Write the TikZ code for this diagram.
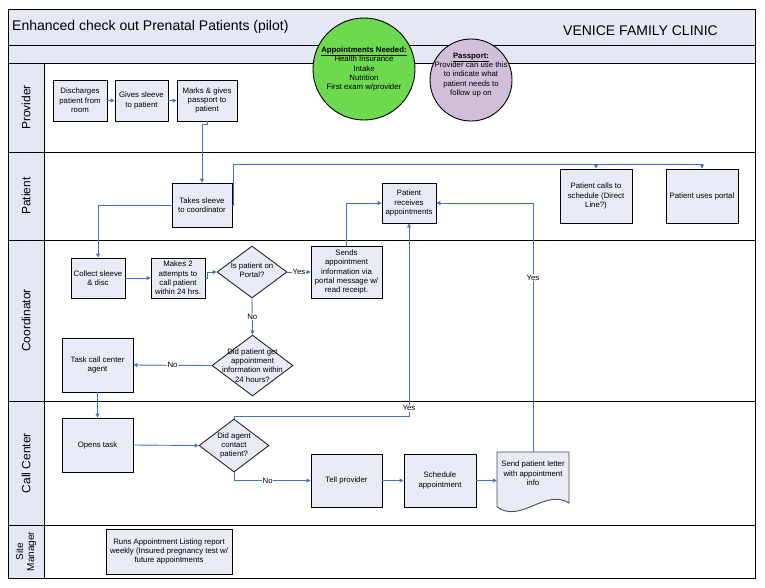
\documentclass[tikz,border=0pt]{standalone}
\usepackage{fontspec}
\setmainfont{Liberation Sans}
\usetikzlibrary{shapes.geometric,arrows.meta,calc}
\definecolor{hdr}{HTML}{E4E8F4}
\definecolor{boxf}{HTML}{E8EAF6}
\definecolor{conn}{HTML}{4472C4}
\definecolor{grn}{HTML}{6CD94E}
\definecolor{prp}{HTML}{D1BFDA}
\tikzset{
  sm/.style={font=\fontsize{7.8}{9.3}\selectfont},
  box/.style={sm, draw=black, line width=0.9pt, fill=boxf, align=center, inner sep=1pt},
  dia/.style={diamond, draw=black!85, line width=0.9pt, fill=boxf, inner sep=0pt},
  txt/.style={sm, align=center, inner sep=0pt},
  lane/.style={rotate=90, font=\fontsize{12}{14}\selectfont},
  link/.style={draw=conn, line width=0.9pt},
  arr/.style={link, -{Triangle[length=4pt,width=4pt]}},
  lbl/.style={sm, fill=white, inner sep=0.8pt},
}
\begin{document}
\begin{tikzpicture}[x=1pt,y=-1pt]
\useasboundingbox (0,0) rectangle (765,587);
% bands
\fill[hdr] (8,9) rectangle (755,63);
\fill[hdr] (8,63) rectangle (44,578);
\draw[line width=1pt] (8,9) rectangle (755,578);
\foreach \yy in {45,63,152,240,401,525} \draw[line width=1pt] (8,\yy) -- (755,\yy);
\draw[line width=1pt] (44,63) -- (44,578);
\node[anchor=west, font=\fontsize{14}{16}\selectfont, inner sep=0pt] (title) at (12,27) {Enhanced check out Prenatal Patients (pilot)};
\node[anchor=west, font=\fontsize{14}{16}\selectfont, inner sep=0pt] (clinic) at (563,31) {VENICE FAMILY CLINIC};
% lane labels
\node[lane] (lprov) at (26,107.5) {Provider};
\node[lane] (lpat) at (26,196) {Patient};
\node[lane] (lcoord) at (26,320.5) {Coordinator};
\node[lane] (lcall) at (26,463) {Call Center};
\node[rotate=90, font=\fontsize{10}{11}\selectfont, align=center] (lsite) at (26,551.5) {Site\\Manager};
% circles
\node[circle, draw=black, line width=0.9pt, fill=grn, minimum size=102pt, inner sep=0pt] (appt) at (364,69) {};
\node[txt] (appttxt) at (364,69) {\textbf{\underline{Appointments Needed:}}\\Health Insurance\\Intake\\Nutrition\\First exam w/provider};
\node[circle, draw=black, line width=0.9pt, fill=prp, minimum size=82pt, inner sep=0pt] (pass) at (471,80) {};
\node[txt] (passtxt) at (471,75) {\textbf{\underline{Passport:}}\\Provider can use this\\to indicate what\\patient needs to\\follow up on};
% provider
\node[box, minimum width=54, minimum height=41] (dis) at (80,100.5) {Discharges\\patient from\\room};
\node[box, minimum width=53, minimum height=41] (gives) at (141.5,100.5) {Gives sleeve\\to patient};
\node[box, minimum width=60, minimum height=41] (marks) at (207,100.5) {Marks \& gives\\passport to\\patient};
% patient
\node[box, minimum width=60, minimum height=44] (takes) at (202,205) {Takes sleeve\\to coordinator};
\node[box, minimum width=72, minimum height=54] (calls) at (596,196) {Patient calls to\\schedule (Direct\\Line?)};
\node[box, minimum width=72, minimum height=54] (portal) at (702,196) {Patient uses portal};
\node[box, minimum width=54, minimum height=40] (recv) at (409,203) {Patient\\receives\\appointments};
% coordinator
\node[box, minimum width=54, minimum height=40] (collect) at (98,278) {Collect sleeve\\\& disc};
\node[box, minimum width=54, minimum height=40] (makes) at (178,278) {Makes 2\\attempts to\\call patient\\within 24 hrs.};
\node[dia, minimum width=70, minimum height=52] (dportal) at (252,272) {};
\node[txt] at (252,270) {Is patient on\\Portal?};
\node[box, minimum width=71, minimum height=52] (sends) at (346.5,272) {Sends\\appointment\\information via\\portal message w/\\read receipt.};
\node[dia, minimum width=81, minimum height=61] (dget) at (252.5,365.5) {};
\node[txt] at (252.5,365.5) {Did patient get\\appointment\\information within\\24 hours?};
\node[box, minimum width=71, minimum height=54] (task) at (97.5,365) {Task call center\\agent};
% call center
\node[box, minimum width=71, minimum height=54] (opens) at (97.5,445) {Opens task};
\node[dia, minimum width=70, minimum height=53] (dagent) at (234,445.5) {};
\node[txt] at (234,445.5) {Did agent\\contact\\patient?};
\node[box, minimum width=71, minimum height=53] (tell) at (346.5,480.5) {Tell provider};
\node[box, minimum width=72, minimum height=53] (sched) at (440,480.5) {Schedule\\appointment};
\draw[draw=black!70, line width=0.9pt, fill=boxf] (497,452) -- (569,452) -- (569,503)
   .. controls (545,488) and (521,524) .. (497,507) -- cycle;
\node[txt, minimum width=72, minimum height=43] (letter) at (533,473.5) {Send patient letter\\with appointment\\info};
% site manager
\node[box, minimum width=126, minimum height=45] (runs) at (169,551.5) {Runs Appointment Listing report\\weekly (Insured pregnancy test w/\\future appointments};
% connectors
\draw[arr] (dis) -- (gives);
\draw[arr] (gives) -- (marks);
\draw[arr] (marks.south) -- ++(0,3) -| (takes.north);
\draw[arr] (takes.west) -| (collect.north);
\coordinate (tp) at ($(portal.north)+(0,-4)$);
\draw[arr] (takes.east) -- ++(1,0) |- (tp) -- (portal.north);
\draw[arr] (calls.north |- tp) -- (calls.north);
\draw[arr] (collect) -- (makes);
\draw[arr] (makes.east) -- ++(1.5,0) |- (dportal.west);
\draw[arr] (dportal.east) -- node[lbl]{Yes} (sends.west);
\draw[arr] (sends.north) |- (recv.west);
\draw[arr] (dportal.south) -- node[lbl]{No} (dget.north);
\draw[arr] (dget.west) -- node[lbl]{No} (task.east);
\draw[arr] (task.south) -- (opens.north);
\draw[arr] (opens.east) -- (dagent.west);
\draw[arr] (dagent.north) -- ++(0,-2.5) -| node[lbl, pos=0.52]{Yes} (recv.south);
\draw[arr] (dagent.south) |- node[lbl, pos=0.72]{No} (tell.west);
\draw[arr] (tell) -- (sched);
\draw[arr] (sched.east) -- (sched.east -| letter.west);
\draw[arr] (letter.north) |- node[lbl, pos=0.35]{Yes} (recv.east);
\end{tikzpicture}
\end{document}
